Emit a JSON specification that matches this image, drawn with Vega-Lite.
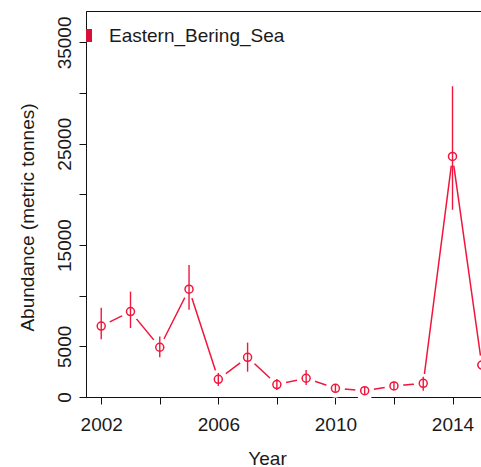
{
  "$schema": "https://vega.github.io/schema/vega-lite/v6.json",
  "width": 411,
  "height": 386,
  "autosize": {"type": "none"},
  "padding": {"left": 86, "top": 11, "right": 0, "bottom": 70},
  "background": "white",
  "config": {
    "font": "Liberation Sans",
    "view": {"stroke": "#111111", "strokeWidth": 1},
    "axis": {
      "grid": false,
      "zindex": 1,
      "domainColor": "#111111",
      "domainWidth": 1,
      "tickColor": "#111111",
      "tickWidth": 1,
      "tickSize": 7,
      "labelFont": "Liberation Sans",
      "labelFontSize": 19,
      "labelColor": "#1a1a1a",
      "titleFont": "Liberation Sans",
      "titleFontSize": 19,
      "titleFontWeight": "normal",
      "titleColor": "#1a1a1a"
    }
  },
  "data": {
    "values": [
      {"year": 2002, "abundance": 7000, "lower": 5700, "upper": 8800, "region": "Eastern_Bering_Sea"},
      {"year": 2003, "abundance": 8430, "lower": 6800, "upper": 10400, "region": "Eastern_Bering_Sea"},
      {"year": 2004, "abundance": 4910, "lower": 3920, "upper": 5960, "region": "Eastern_Bering_Sea"},
      {"year": 2005, "abundance": 10640, "lower": 8600, "upper": 13040, "region": "Eastern_Bering_Sea"},
      {"year": 2006, "abundance": 1750, "lower": 1090, "upper": 2370, "region": "Eastern_Bering_Sea"},
      {"year": 2007, "abundance": 3920, "lower": 2500, "upper": 5370, "region": "Eastern_Bering_Sea"},
      {"year": 2008, "abundance": 1230, "lower": 690, "upper": 1780, "region": "Eastern_Bering_Sea"},
      {"year": 2009, "abundance": 1850, "lower": 1190, "upper": 2670, "region": "Eastern_Bering_Sea"},
      {"year": 2010, "abundance": 860, "lower": 520, "upper": 1190, "region": "Eastern_Bering_Sea"},
      {"year": 2011, "abundance": 620, "lower": 300, "upper": 990, "region": "Eastern_Bering_Sea"},
      {"year": 2012, "abundance": 1090, "lower": 690, "upper": 1510, "region": "Eastern_Bering_Sea"},
      {"year": 2013, "abundance": 1350, "lower": 620, "upper": 2000, "region": "Eastern_Bering_Sea"},
      {"year": 2014, "abundance": 23750, "lower": 18480, "upper": 30670, "region": "Eastern_Bering_Sea"},
      {"year": 2015, "abundance": 3160, "lower": 370, "upper": 8100, "region": "Eastern_Bering_Sea"}
    ]
  },
  "encoding": {
    "x": {
      "field": "year",
      "type": "quantitative",
      "scale": {"domain": [2001.48, 2015.52], "nice": false, "zero": false},
      "axis": {
        "title": "Year",
        "values": [2002, 2004, 2006, 2008, 2010, 2012, 2014],
        "format": "d",
        "labelExpr": "datum.value % 4 == 2 ? datum.label : ''",
        "labelPadding": 11,
        "labelFlush": false,
        "titleX": 181,
        "titlePadding": 15
      }
    },
    "y": {
      "field": "abundance",
      "type": "quantitative",
      "scale": {"domain": [0, 38100], "nice": false},
      "axis": {
        "title": "Abundance (metric tonnes)",
        "values": [0, 5000, 10000, 15000, 20000, 25000, 30000, 35000],
        "format": "d",
        "labelExpr": "(datum.value == 0 || datum.value % 10000 == 5000) ? datum.label : ''",
        "labelAngle": -90,
        "labelAlign": "center",
        "labelBaseline": "bottom",
        "labelPadding": 5,
        "labelFlush": false,
        "titleX": -49,
        "titleY": 206,
        "titleAngle": -90
      }
    }
  },
  "layer": [
    {
      "mark": {"type": "line", "strokeWidth": 1.5},
      "encoding": {
        "color": {
          "field": "region",
          "type": "nominal",
          "scale": {"range": ["#f2163c"]},
          "legend": {
            "title": null,
            "orient": "none",
            "legendX": -6.5,
            "legendY": 15,
            "padding": 0,
            "symbolType": "M-0.46,-1H0.46V1H-0.46Z",
            "symbolSize": 169,
            "symbolStrokeWidth": 0,
            "labelFont": "Liberation Sans",
            "labelFontSize": 19,
            "labelColor": "#1a1a1a",
            "labelOffset": 10.5,
            "labelLimit": 400,
            "encode": {
              "symbols": {"update": {"fill": {"value": "#d7103a"}, "stroke": {"value": "transparent"}, "opacity": {"value": 1}}}
            }
          }
        }
      }
    },
    {
      "mark": {"type": "point", "shape": "circle", "filled": true, "fill": "white", "opacity": 1, "size": 361, "strokeWidth": 0}
    },
    {
      "mark": {"type": "rule", "color": "#f2163c", "strokeWidth": 1.4},
      "encoding": {
        "y": {"field": "lower", "type": "quantitative"},
        "y2": {"field": "upper"}
      }
    },
    {
      "mark": {"type": "point", "shape": "circle", "filled": false, "stroke": "#f2163c", "opacity": 1, "size": 64, "strokeWidth": 1.5}
    }
  ]
}
